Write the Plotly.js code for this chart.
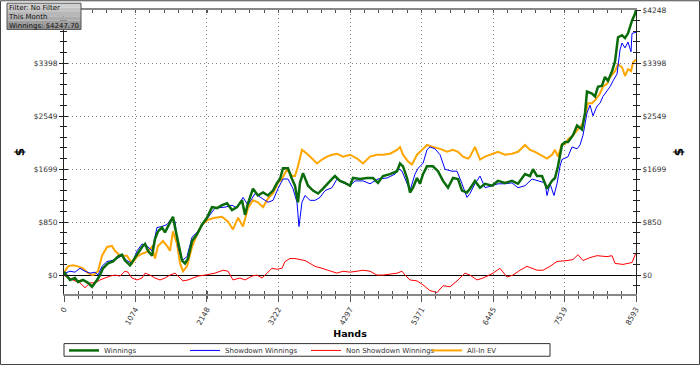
<!DOCTYPE html>
<html>
<head>
<meta charset="utf-8">
<script src="https://cdn.plot.ly/plotly-3.0.1.min.js"></script>
<style>html,body{margin:0;padding:0;background:#fff;}#chart{width:700px;height:375px;}</style>
</head>
<body>
<div id="chart"></div>
<script>
// ---- data ----
const winHands = [0,15,90,165,210,285,361,421,496,541,586,661,736,811,871,916,992,1037,1112,1172,1217,1262,1322,1367,1412,1472,1517,1592,1637,1668,1713,1773,1818,1863,1923,1998,2073,2148,2223,2298,2374,2449,2524,2599,2674,2719,2764,2839,2914,2990,3065,3140,3200,3245,3290,3365,3425,3470,3515,3545,3591,3666,3741,3816,3891,3966,4041,4071,4146,4222,4297,4342,4447,4552,4642,4717,4792,4898,5003,5048,5093,5153,5198,5243,5303,5348,5393,5453,5543,5619,5694,5769,5844,5919,5979,6054,6099,6174,6250,6325,6430,6520,6625,6730,6820,6926,7001,7046,7106,7181,7256,7331,7376,7421,7481,7527,7572,7647,7707,7782,7827,7857,7932,7977,8022,8082,8127,8172,8233,8278,8323,8383,8428,8473,8533,8578,8593];
const winnings = [0,31,-78,-47,-109,-78,-124,-187,-78,0,109,187,218,296,327,233,156,233,342,451,498,389,311,576,700,762,685,856,934,762,545,233,187,265,545,654,809,918,1089,1074,1120,1151,1043,1089,1198,965,1151,1385,1276,1323,1276,1354,1478,1540,1712,1712,1540,1432,1167,1478,1634,1432,1354,1307,1385,1478,1556,1587,1509,1478,1432,1556,1540,1556,1556,1478,1587,1618,1665,1789,1743,1556,1323,1400,1556,1463,1618,1743,1743,1665,1509,1400,1556,1540,1354,1323,1385,1509,1400,1463,1432,1509,1478,1509,1463,1618,1587,1696,1587,1587,1385,1509,1556,1743,2085,2132,2132,2241,2396,2334,2599,2941,2910,2863,3019,3034,3174,3112,3268,3423,3812,3843,3797,3874,4077,4186,4248];

const sdHands = [0,15,90,165,240,315,391,466,511,571,646,721,796,871,946,1022,1097,1172,1247,1322,1397,1472,1547,1622,1668,1713,1773,1848,1923,1998,2118,2268,2419,2524,2599,2689,2764,2869,2975,3065,3140,3215,3290,3365,3440,3500,3530,3575,3621,3696,3771,3846,3921,4026,4101,4191,4297,4372,4492,4597,4717,4852,4973,5018,5078,5153,5198,5273,5318,5393,5453,5498,5574,5649,5724,5829,5904,5979,6054,6099,6174,6250,6325,6430,6520,6625,6730,6820,6926,7031,7121,7226,7256,7301,7361,7406,7451,7481,7572,7632,7707,7752,7797,7857,7902,7947,8007,8052,8097,8157,8203,8248,8308,8353,8383,8428,8473,8518,8533,8593];
const showdown = [0,31,62,47,109,62,31,47,0,140,218,233,265,311,233,187,389,498,467,389,762,778,809,918,856,451,233,296,607,685,856,1074,1089,1120,1074,1245,1120,1307,1229,1167,1198,1385,1540,1540,1385,1167,778,1167,1276,1198,1198,1245,1354,1400,1540,1478,1432,1509,1509,1463,1540,1556,1618,1712,1665,1463,1354,1618,1712,1789,2007,2054,2023,1929,1696,1665,1665,1463,1245,1307,1463,1587,1400,1432,1463,1463,1478,1400,1432,1540,1509,1478,1276,1463,1276,1463,1743,1852,1898,2054,2023,2085,2241,2599,2723,2552,2707,2754,2863,2956,3019,3112,3221,3610,3719,3641,3734,3579,3874,3890];

const nsdHands = [0,15,135,240,315,391,466,541,616,691,766,841,916,961,1022,1097,1172,1217,1292,1367,1442,1517,1592,1668,1713,1788,1863,1938,2013,2118,2268,2389,2464,2539,2644,2719,2824,2899,2975,3050,3125,3200,3275,3320,3395,3470,3545,3621,3696,3771,3876,3966,4041,4101,4191,4297,4402,4492,4597,4702,4792,4898,5003,5078,5123,5198,5303,5393,5498,5604,5694,5799,5904,6024,6099,6205,6295,6445,6550,6655,6745,6850,6956,7106,7196,7301,7406,7557,7647,7722,7797,7902,8007,8157,8233,8278,8398,8533,8578,8593];
const nonShowdown = [0,-16,-78,-124,-202,-124,-124,-78,-47,-16,0,-16,62,47,-47,-78,-47,31,0,-47,-78,-47,0,31,-16,-93,-78,-47,-16,0,31,78,62,-78,-47,-78,-16,0,-47,31,109,93,109,218,265,265,249,233,187,140,109,78,62,31,62,47,62,78,62,0,0,16,31,62,0,-78,-93,-156,-249,-280,-171,-187,-93,31,0,-78,-47,31,109,-31,0,78,140,78,78,140,218,233,249,327,233,280,311,296,311,187,171,202,311,358];

const evHands = [0,15,60,135,210,285,361,436,511,571,646,721,766,841,946,1022,1097,1172,1247,1322,1367,1412,1487,1547,1592,1637,1698,1743,1788,1848,1923,1998,2073,2163,2268,2374,2464,2539,2614,2689,2764,2839,2914,2990,3065,3140,3215,3275,3350,3425,3470,3515,3575,3651,3726,3801,3876,3951,4026,4101,4191,4297,4402,4492,4597,4702,4792,4898,5003,5048,5093,5168,5228,5303,5378,5453,5543,5649,5754,5844,5919,5994,6069,6099,6174,6250,6325,6430,6520,6625,6730,6820,6926,7001,7076,7151,7256,7331,7376,7421,7481,7527,7572,7647,7722,7782,7827,7872,7932,7977,8052,8097,8157,8203,8278,8323,8383,8428,8473,8518,8548,8593];
const allInEV = [0,62,140,156,140,109,31,0,62,311,451,467,389,311,311,187,296,342,373,451,265,467,545,467,389,700,498,187,62,140,451,654,809,887,918,934,856,731,918,778,1074,1198,1167,1089,1229,1307,1478,1540,1696,1587,1587,1743,2007,1945,1867,1789,1852,1898,1929,1945,1898,1929,1867,1789,1898,1929,1929,1945,2007,2054,1929,1821,1774,1929,2007,2085,2054,2023,1976,2007,1976,1898,1867,1898,2054,1852,1898,1945,1976,1929,1945,1976,2085,2007,1976,1929,1867,1929,2007,1898,2101,2101,2178,2241,2334,2412,2552,2754,2754,2801,2910,3019,3065,3174,3268,3377,3330,3190,3299,3268,3408,3454];

const xTicks = [0,1074,2148,3222,4297,5371,6445,7519,8593];
const yTicksLeft = [0,849.6,1699.2,2548.8,3398.4];
const yTickTextLeft = ['$0','$850','$1699','$2549','$3398'];
const yTicksRight = [0,849.6,1699.2,2548.8,3398.4,4248];
const yTickTextRight = ['$0','$850','$1699','$2549','$3398','$4248'];
const seriesNames = ['Winnings','Showdown Winnings','Non Showdown Winnings','All-In EV'];
const infoLines = ['Filter: No Filter','This Month','Winnings: $4247.70'];

// ---- chart ----
const F = 'DejaVu Sans, Verdana, sans-serif';
const traces = [
  {x: evHands, y: allInEV, name: seriesNames[3], legendrank: 4, xaxis:'x', yaxis:'y', type:'scatter', mode:'lines', line:{color:'#ffa500', width:2}},
  {x: nsdHands, y: nonShowdown, name: seriesNames[2], legendrank: 3, xaxis:'x', yaxis:'y3', type:'scatter', mode:'lines', line:{color:'#ff0000', width:1}},
  {x: sdHands, y: showdown, name: seriesNames[1], legendrank: 2, xaxis:'x2', yaxis:'y2', type:'scatter', mode:'lines', line:{color:'#0000ff', width:1}},
  {x: winHands, y: winnings, name: seriesNames[0], legendrank: 1, xaxis:'x3', yaxis:'y4', type:'scatter', mode:'lines', line:{color:'#0a6b0a', width:2.5}}
];
const yr = [-303, 4248];
const xr = [0, 8593];
const tickFont = {family:F, size:7.5, color:'#333'};
const xMinor = (t) => ({tickmode:'linear', tick0:0, dtick:214.825, ticks:t, ticklen:3, tickcolor:'#555', showgrid:false});
const yMinor = (t) => ({tickmode:'linear', tick0:0, dtick:169.92, ticks:t, ticklen:3, tickcolor:'#222', showgrid:false});
const gx = 64, plotW = 572, plotB = 302, plotH = 292; // plot frame in px, for paper-ref decorations
const px = (v) => (v - gx) / plotW;
const py = (v) => (plotB - v) / plotH;

// gradient info box (light at top, darker at bottom)
const boxGrays = ['#cfcfcf','#c3c3c3','#b7b7b7','#ababab','#9f9f9f','#939393'];
const boxTop = 3, boxBot = 30, boxL = 7, boxR = 81;
const boxShapes = boxGrays.map((c, i) => {
  const h = (boxBot - boxTop) / boxGrays.length;
  return {type:'rect', xref:'paper', yref:'paper', x0:px(boxL), x1:px(boxR),
    y0:py(boxTop + (i + 1) * h), y1:py(boxTop + i * h), line:{width:0}, fillcolor:c, layer:'above'};
});
boxShapes.push({type:'rect', xref:'paper', yref:'paper', x0:px(boxL), x1:px(boxR), y0:py(boxBot), y1:py(boxTop),
  line:{color:'#555', width:1}, fillcolor:'rgba(0,0,0,0)', layer:'above'});

const layout = {
  width:700, height:375,
  margin:{l:64, r:64, t:10, b:73, pad:0},
  paper_bgcolor:'#fff', plot_bgcolor:'#fff',
  showlegend:true,
  legend:{orientation:'h', x:0, xanchor:'left', y:py(360), yanchor:'middle',
    borderwidth:0, bgcolor:'rgba(0,0,0,0)',
    font:{family:F, size:7, color:'#333'}, entrywidth:76, entrywidthmode:'pixels',
    itemwidth:30, traceorder:'normal', tracegroupgap:0},
  xaxis:{range:xr, tickmode:'array', tickvals:xTicks, ticktext:xTicks.map(String),
    tickangle:-60, tickfont:tickFont, ticks:'outside', ticklen:6, tickcolor:'#555', tickwidth:1,
    showline:true, linecolor:'#888', linewidth:2, zeroline:false,
    showgrid:true, gridcolor:'#888', griddash:'1px,3px', gridwidth:1,
    minor:xMinor('outside'),
    title:{text:'Hands', font:{family:F, size:9.5, color:'#000', weight:'bold'}, standoff:5},
    fixedrange:true},
  xaxis2:{range:xr, overlaying:'x', anchor:'y', side:'bottom', tickmode:'array', tickvals:xTicks,
    showticklabels:false, ticks:'inside', ticklen:4, tickcolor:'#555', showline:false, showgrid:false, zeroline:false,
    minor:xMinor('inside')},
  xaxis3:{range:xr, overlaying:'x', anchor:'y', side:'top', tickmode:'array', tickvals:xTicks,
    showticklabels:false, ticks:'inside', ticklen:3, tickcolor:'#555', showline:true, linecolor:'#888', linewidth:2,
    showgrid:false, zeroline:false, minor:xMinor('inside')},
  yaxis:{range:yr, tickmode:'array', tickvals:yTicksLeft, ticktext:yTickTextLeft, tickfont:tickFont,
    ticks:'outside', ticklen:4, tickcolor:'#222', showline:true, linecolor:'#222', linewidth:1,
    showgrid:true, gridcolor:'#888', griddash:'1px,3px', gridwidth:1,
    zeroline:true, zerolinecolor:'#000', zerolinewidth:1,
    minor:yMinor('outside'),
    title:{text:'$', font:{family:F, size:12, color:'#000', weight:'bold'}, standoff:6},
    fixedrange:true},
  yaxis2:{range:yr, overlaying:'y', side:'right', anchor:'x', tickmode:'array', tickvals:yTicksRight, ticktext:yTickTextRight,
    tickfont:tickFont, ticks:'outside', ticklen:4, tickcolor:'#222', showline:true, linecolor:'#222', linewidth:1,
    showgrid:false, zeroline:false, minor:yMinor('outside'),
    title:{text:'$', font:{family:F, size:12, color:'#000', weight:'bold'}, standoff:9}},
  yaxis3:{range:yr, overlaying:'y', side:'left', anchor:'x', tickmode:'array', tickvals:yTicksRight,
    showticklabels:false, ticks:'inside', ticklen:4, tickcolor:'#222', showline:false, showgrid:false, zeroline:false,
    minor:yMinor('inside')},
  yaxis4:{range:yr, overlaying:'y', side:'right', anchor:'x', tickmode:'array', tickvals:yTicksRight,
    showticklabels:false, ticks:'inside', ticklen:4, tickcolor:'#222', showline:false, showgrid:false, zeroline:false,
    minor:yMinor('inside')},
  annotations:[{xref:'paper', yref:'paper', x:px(boxL + 1), y:py(boxTop + 0.5), xanchor:'left', yanchor:'top',
    text:infoLines.join('<br>'), align:'left', showarrow:false,
    font:{family:F, size:7, color:'#111'}, bgcolor:'rgba(0,0,0,0)', borderwidth:0, borderpad:0}],
  shapes:[
    {type:'rect', xref:'paper', yref:'paper', x0:px(0.5), x1:px(699.5), y0:py(374.5), y1:py(0.5),
      line:{color:'#444', width:1}, fillcolor:'rgba(0,0,0,0)', layer:'below'},
    {type:'rect', xref:'paper', yref:'paper', x0:0, x1:px(550), y0:py(366), y1:py(353),
      line:{color:'#333', width:1}, fillcolor:'rgba(0,0,0,0)', layer:'above'}
  ].concat(boxShapes)
};
Plotly.newPlot('chart', traces, layout, {staticPlot:true, displayModeBar:false});
</script>
</body>
</html>
